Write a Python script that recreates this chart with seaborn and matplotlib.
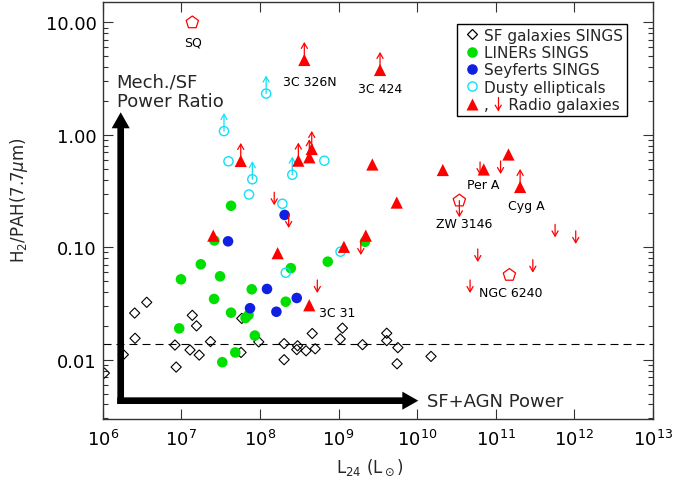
import numpy as np
import pandas as pd
import matplotlib
matplotlib.use("Agg")
import matplotlib.pyplot as plt
import seaborn as sns
from matplotlib.lines import Line2D
from matplotlib.legend_handler import HandlerBase
from matplotlib import ticker

# ---------------- data ----------------
sf_L24 = [1.05e6, 1.83e6, 2.55e6, 3.63e6, 2.58e6, 8.3e6, 8.6e6, 1.29e7, 1.38e7, 1.56e7,
          1.69e7, 2.35e7, 5.87e7, 5.75e7, 9.66e7, 2.03e8, 2.03e8, 3.01e8, 2.94e8, 3.86e8,
          4.63e8, 5.05e8, 1.12e9, 1.05e9, 2.02e9, 4.10e9, 4.10e9, 5.68e9, 5.55e9, 1.50e10]
sf_ratio = [0.0076, 0.0111, 0.0260, 0.0324, 0.0155, 0.0135, 0.0086, 0.0122, 0.0248, 0.0200,
            0.0110, 0.0145, 0.0233, 0.0116, 0.0144, 0.0139, 0.0100, 0.0133, 0.0123, 0.0120,
            0.0171, 0.0125, 0.0191, 0.0153, 0.0136, 0.0172, 0.0148, 0.0128, 0.0092, 0.0107]

liner_L24 = [4.29e7, 2.63e7, 1.77e7, 9.9e6, 3.11e7, 2.61e7, 4.29e7, 9.4e6, 7.87e7, 6.56e7,
             7.16e7, 8.61e7, 3.32e7, 4.86e7, 2.47e8, 2.13e8, 7.29e8, 2.17e9]
liner_ratio = [0.234, 0.115, 0.0706, 0.0519, 0.0552, 0.0347, 0.0262, 0.0190, 0.0423, 0.0235,
               0.0250, 0.0164, 0.0095, 0.0116, 0.0652, 0.0328, 0.0745, 0.112]

sey_L24 = [2.06e8, 3.93e7, 1.23e8, 7.48e7, 1.62e8, 2.94e8]
sey_ratio = [0.194, 0.113, 0.0426, 0.0287, 0.0267, 0.0354]

ell_L24 = [1.20e8, 3.49e7, 3.98e7, 8.0e7, 7.26e7, 1.93e8, 2.58e8, 6.6e8, 2.13e8, 1.06e9]
ell_ratio = [2.33, 1.08, 0.582, 0.403, 0.295, 0.244, 0.442, 0.589, 0.0594, 0.0914]
ell_lower = [True, True, False, True, False, False, True, False, False, False]

rg_L24 = [3.67e8, 3.37e9, 5.70e7, 3.08e8, 4.25e8, 4.56e8, 2.55e7, 1.68e8, 4.24e8, 1.17e9,
          2.22e9, 2.69e9, 5.50e9, 2.12e10, 7.03e10, 1.45e11, 2.04e11]
rg_ratio = [4.64, 3.78, 0.586, 0.590, 0.632, 0.749, 0.127, 0.0886, 0.0305, 0.101,
            0.127, 0.545, 0.250, 0.487, 0.492, 0.669, 0.344]
rg_lower = [True, True, True, True, True, True, False, False, False, False,
            False, False, False, False, False, False, True]

rgul_L24 = [1.52e8, 2.32e8, 5.37e8, 1.92e9, 6.31e10, 1.15e11, 5.68e11, 1.04e12, 5.90e10,
            2.96e11, 4.71e10]
rgul_ratio = [0.309, 0.194, 0.0512, 0.1115, 0.574, 0.586, 0.160, 0.140, 0.0966, 0.0776, 0.0512]

pent_L24 = [1.38e7, 3.44e10, 1.49e11]
pent_ratio = [10.0, 0.260, 0.0567]
pent_upper = [False, True, False]

label_text = ["SQ", "3C 326N", "3C 424", "Per A", "Cyg A", "ZW 3146", "NGC 6240", "3C 31"]
label_L24 = [1.38e7, 3.67e8, 3.37e9, 7.03e10, 2.04e11, 3.44e10, 1.49e11, 4.24e8]
label_ratio = [10.0, 4.64, 3.78, 0.492, 0.344, 0.260, 0.0567, 0.0305]

sf_threshold = 0.0138

x_tick_values = [1e6, 1e7, 1e8, 1e9, 1e10, 1e11, 1e12, 1e13]
y_tick_values = [0.01, 0.1, 1.0, 10.0]
y_tick_labels = ["0.01", "0.10", "1.00", "10.00"]

legend_labels = ["SF galaxies SINGS", "LINERs SINGS", "Seyferts SINGS",
                 "Dusty ellipticals", ",    Radio galaxies"]

# ---------------- styles ----------------
label_offsets = [(0.3, -16.6, "center"), (3.6, -17.7, "center"), (0, -15.8, "center"),
                 (-0.3, -13.2, "center"), (4.8, -15.6, "center"), (3.7, -18.9, "center"),
                 (1.1, -15.3, "center"), (6.8, -7.9, "left")]

GREEN = "#00e000"
BLUE = "#1020e0"
CYAN = "#10e0f8"
RED = "#ff0000"

sns.set_style("ticks")
plt.rcParams["font.family"] = ["DejaVu Sans"]
plt.rcParams["mathtext.fontset"] = "dejavusans"

fig = plt.figure(figsize=(6.73, 4.85), dpi=100)
ax = fig.add_axes([0.1526, 0.1340, 0.8177, 0.8592])
ax.set_xscale("log")
ax.set_yscale("log")

ax.axhline(sf_threshold, color="black", lw=0.8, dashes=(7.2, 4.5), zorder=1)

sns.scatterplot(x=sf_L24, y=sf_ratio, marker="D", s=5.2**2, color="black",
                facecolor="none", edgecolor="black", linewidth=0.8, ax=ax, zorder=2, legend=False)
sns.scatterplot(x=liner_L24, y=liner_ratio, marker="o", s=7.6**2, color=GREEN,
                edgecolor="none", linewidth=0, ax=ax, zorder=3, legend=False)
sns.scatterplot(x=sey_L24, y=sey_ratio, marker="o", s=7.6**2, color=BLUE,
                edgecolor="none", linewidth=0, ax=ax, zorder=3, legend=False)
sns.scatterplot(x=ell_L24, y=ell_ratio, marker="o", s=6.6**2, color=CYAN,
                facecolor="none", edgecolor=CYAN, linewidth=1.0, ax=ax, zorder=4, legend=False)
sns.scatterplot(x=rg_L24, y=rg_ratio, marker="^", s=8.8**2, color=RED,
                edgecolor="none", linewidth=0, ax=ax, zorder=5, legend=False)
sns.scatterplot(x=pent_L24, y=pent_ratio, marker="p", s=9.3**2, color=RED,
                facecolor="none", edgecolor=RED, linewidth=0.9, ax=ax, zorder=5, legend=False)


def limit_arrows(xs, ys, flags, length, color, z):
    for x, y, f in zip(xs, ys, flags):
        if not f:
            continue
        ax.annotate("", xy=(x, y), xytext=(0, length), textcoords="offset points",
                    arrowprops=dict(arrowstyle="<-,head_length=0.38,head_width=0.22",
                                    color=color, lw=0.9, shrinkA=0, shrinkB=0),
                    zorder=z)


limit_arrows(ell_L24, ell_ratio, ell_lower, 13.0, CYAN, 4)
limit_arrows(rg_L24, rg_ratio, rg_lower, 13.0, RED, 5)
limit_arrows(rgul_L24, rgul_ratio, [True] * len(rgul_L24), -9.4, RED, 5)
limit_arrows(pent_L24, pent_ratio, pent_upper, -12.0, RED, 5)

for txt, x, y, (dx, dy, ha) in zip(label_text, label_L24, label_ratio, label_offsets):
    ax.annotate(txt, xy=(x, y), xytext=(dx, dy), textcoords="offset points",
                ha=ha, va="baseline", fontsize=9, color="black", zorder=6)

# big annotation arrows
big = "simple,head_length=11.5,head_width=13,tail_width=4.8"
ax.annotate("", xy=(0.0327, 0.736), xycoords="axes fraction",
            xytext=(0.0327, 0.036), textcoords="axes fraction",
            arrowprops=dict(arrowstyle=big, mutation_scale=1, fc="black", ec="none",
                            lw=0, shrinkA=0, shrinkB=0), zorder=10)
ax.annotate("", xy=(0.5735, 0.044), xycoords="axes fraction",
            xytext=(0.0265, 0.044), textcoords="axes fraction",
            arrowprops=dict(arrowstyle=big, mutation_scale=1, fc="black", ec="none",
                            lw=0, shrinkA=0, shrinkB=0), zorder=10)
ax.text(0.0254, 0.7984, "Mech./SF", transform=ax.transAxes, fontsize=13,
        ha="left", va="baseline")
ax.text(0.0254, 0.7504, "Power Ratio", transform=ax.transAxes, fontsize=13,
        ha="left", va="baseline")
ax.text(0.589, 0.0319, "SF+AGN Power", transform=ax.transAxes, fontsize=13,
        ha="left", va="baseline")

# axes
ax.set_xlim(1e6, 1e13)
ax.set_ylim(0.002967, 15.12)
ax.xaxis.set_major_locator(ticker.FixedLocator(x_tick_values))
ax.xaxis.set_major_formatter(ticker.LogFormatterSciNotation())
ax.xaxis.set_minor_locator(ticker.NullLocator())
ax.yaxis.set_major_locator(ticker.FixedLocator(y_tick_values))
ax.yaxis.set_major_formatter(ticker.FixedFormatter(y_tick_labels))
ax.yaxis.set_minor_locator(ticker.LogLocator(base=10, subs=np.arange(2, 10)))
ax.yaxis.set_minor_formatter(ticker.NullFormatter())
ax.tick_params(axis="both", which="both", direction="in", top=True, right=True,
               colors="#333333", labelcolor="black", width=0.8, labelsize=13)
ax.tick_params(axis="both", which="major", length=7.2)
ax.tick_params(axis="both", which="minor", length=3.6)
ax.tick_params(axis="x", pad=7)
ax.tick_params(axis="y", pad=4.3)
for sp in ax.spines.values():
    sp.set_color("#333333")
    sp.set_linewidth(1.0)

ax.set_xlabel(r"L$_{24}$ (L$_\odot$)", fontsize=12)
ax.set_ylabel(r"H$_2$/PAH(7.7$\mu$m)", fontsize=12)
ax.xaxis.set_label_coords(0.486, -0.091)
ax.yaxis.set_label_coords(-0.132, 0.527)


# legend
class TriArrowHandler(HandlerBase):
    def create_artists(self, legend, orig_handle, xdescent, ydescent, width, height,
                       fontsize, trans):
        cx = width / 2 - xdescent
        cy = height / 2 - ydescent
        tri = Line2D([cx], [cy], marker="^", ls="none", color=RED, mec="none", ms=8.8,
                     transform=trans)
        axx = cx + 19.2
        top, bot = cy + 4.7, cy - 4.7
        shaft = Line2D([axx, axx], [top, bot], color=RED, lw=0.9, transform=trans)
        head = Line2D([axx - 2.2, axx, axx + 2.2], [bot + 3.6, bot, bot + 3.6],
                      color=RED, lw=0.9, transform=trans)
        return [tri, shaft, head]


h_sf = Line2D([], [], marker="D", ls="none", mfc="none", mec="black", ms=5.2, mew=0.9)
h_li = Line2D([], [], marker="o", ls="none", color=GREEN, mec="none", ms=7.6)
h_se = Line2D([], [], marker="o", ls="none", color=BLUE, mec="none", ms=7.6)
h_el = Line2D([], [], marker="o", ls="none", mfc="none", mec=CYAN, ms=6.6, mew=1.0)
h_rg = Line2D([], [], marker="^", ls="none", color=RED, ms=8.8)
leg = ax.legend(handles=[h_sf, h_li, h_se, h_el, h_rg], labels=legend_labels,
                loc="upper right", bbox_to_anchor=(0.952, 0.948), borderaxespad=0,
                fontsize=11, frameon=True, fancybox=False, framealpha=1,
                edgecolor="black", handlelength=1.4, handletextpad=0.1,
                borderpad=0.25, labelspacing=0.15,
                handler_map={h_rg: TriArrowHandler()})
leg.get_frame().set_linewidth(1.0)
leg.set_zorder(20)

fig.savefig("out.png", dpi=100)
